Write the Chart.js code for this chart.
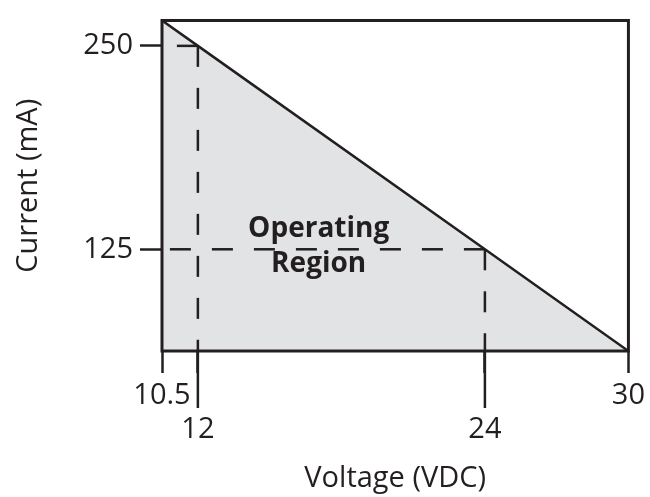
<!DOCTYPE html>
<html>
<head>
<meta charset="utf-8">
<script src="https://cdn.jsdelivr.net/npm/chart.js@4/dist/chart.umd.min.js"></script>
<style>
  html, body { margin: 0; padding: 0; background: #fff; }
  canvas { display: block; }
</style>
</head>
<body>
<canvas id="chart" width="650" height="497"></canvas>
<script>
// load line: max current vs supply voltage
const volts = [10.5, 12, 24, 30];
const currentMa = [265.6, 250, 125, 62.5];

// marked points with dashed guides
const markVolts = [12, 24];
const markCurrents = [250, 125];

// tick labels
const xTicks = [10.5, 12, 24, 30];
const yTicks = [125, 250];

const regionLabel = ['Operating', 'Region'];
const regionAt = [17.05, 125];

const ink = '#231f20';
const shade = '#e2e3e5';
const family = "'Open Sans', 'Noto Sans', sans-serif";

const xMin = Math.min(...volts);
const xMax = Math.max(...volts);
const yMin = Math.min(...currentMa);
const yMax = Math.max(...currentMa);

const guide = data => ({
  data: data,
  order: 0,
  borderColor: ink,
  borderWidth: 2.5,
  borderDash: [21, 21],
  pointRadius: 0,
  fill: false
});

// order 1 so the shaded area is drawn below the guides
const datasets = [{
  data: volts.map((v, i) => ({ x: v, y: currentMa[i] })),
  order: 1,
  borderColor: ink,
  borderWidth: 2.5,
  backgroundColor: shade,
  pointRadius: 0,
  fill: 'start'
}];

markVolts.forEach((v, i) => {
  const c = markCurrents[i];
  datasets.push(guide([{ x: v, y: c }, { x: v, y: yMin }]));
  datasets.push(guide([{ x: v, y: c }, { x: xMin, y: c }]));
});

const frame = {
  id: 'frame',
  afterDatasetsDraw(chart) {
    const { ctx, chartArea: a, scales: { x, y } } = chart;
    ctx.save();
    ctx.strokeStyle = ink;
    ctx.lineWidth = 3;
    ctx.strokeRect(a.left, a.top, a.right - a.left, a.bottom - a.top);

    // longer ticks under the marked voltages
    ctx.lineWidth = 2.5;
    ctx.beginPath();
    for (const v of markVolts) {
      const px = x.getPixelForValue(v);
      ctx.moveTo(px, a.bottom);
      ctx.lineTo(px, a.bottom + 57);
    }
    ctx.stroke();

    ctx.fillStyle = ink;
    ctx.font = `bold 28px ${family}`;
    ctx.textAlign = 'center';
    ctx.textBaseline = 'middle';
    const cx = x.getPixelForValue(regionAt[0]);
    const cy = y.getPixelForValue(regionAt[1]);
    ctx.fillText(regionLabel[0], cx, cy - 20);
    ctx.fillText(regionLabel[1], cx, cy + 15);
    ctx.restore();
  }
};

new Chart(document.getElementById('chart'), {
  type: 'line',
  data: { datasets: datasets },
  plugins: [frame],
  options: {
    responsive: false,
    animation: false,
    layout: { padding: { top: 13, right: 18, left: 0, bottom: 0 } },
    plugins: {
      legend: { display: false },
      tooltip: { enabled: false }
    },
    scales: {
      x: {
        type: 'linear',
        min: xMin,
        max: xMax,
        afterBuildTicks: s => { s.ticks = xTicks.map(v => ({ value: v })); },
        afterFit: s => { s.height = 146; },
        grid: { drawOnChartArea: false, drawTicks: true, tickLength: 22, tickWidth: 2.5, tickColor: ink },
        border: { display: false },
        ticks: {
          autoSkip: false,
          maxRotation: 0,
          padding: 5,
          color: ink,
          font: { family: family, size: 29 },
          callback: v => markVolts.includes(v) ? ['', String(v)] : String(v)
        },
        title: {
          display: true,
          text: 'Voltage (VDC)',
          color: ink,
          font: { family: family, size: 29 },
          padding: { top: 0, bottom: 1 }
        }
      },
      y: {
        type: 'linear',
        min: yMin,
        max: yMax,
        afterBuildTicks: s => { s.ticks = yTicks.map(v => ({ value: v })); },
        afterFit: s => { s.width = 162; },
        grid: { drawOnChartArea: false, drawTicks: true, tickLength: 22, tickWidth: 2.5, tickColor: ink },
        border: { display: false },
        ticks: {
          autoSkip: false,
          padding: 7,
          color: ink,
          font: { family: family, size: 29, lineHeight: 0.93 },
          callback: v => String(v)
        },
        title: {
          display: true,
          text: 'Current (mA)',
          color: ink,
          font: { family: family, size: 29 },
          padding: { top: 11, bottom: 0 }
        }
      }
    }
  }
});
</script>
</body>
</html>
